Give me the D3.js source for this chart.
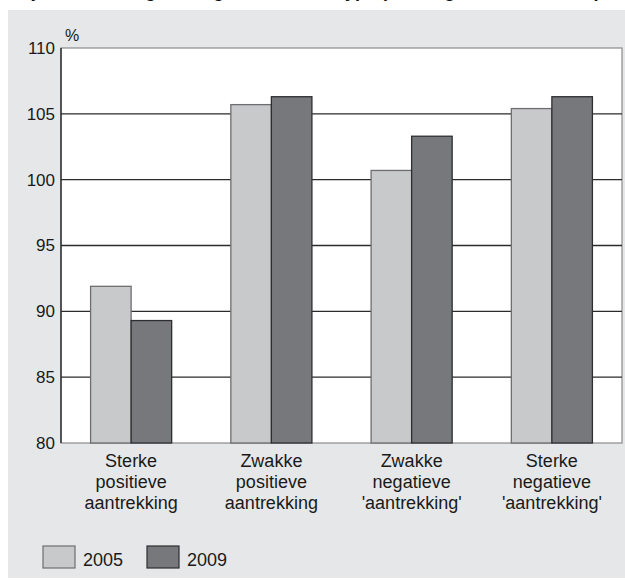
<!DOCTYPE html>
<html>
<head>
<meta charset="utf-8">
<script src="https://cdn.jsdelivr.net/npm/d3@7"></script>
<style>
  body { margin: 0; background: #fff; }
  svg { display: block; font-family: "Liberation Sans", Arial, sans-serif; }
</style>
</head>
<body>
<div id="main-vis"></div>
<script>
// chart values
const categories = [
  ["Sterke", "positieve", "aantrekking"],
  ["Zwakke", "positieve", "aantrekking"],
  ["Zwakke", "negatieve", "'aantrekking'"],
  ["Sterke", "negatieve", "'aantrekking'"]
]
const years = ["2005", "2009"]
const values2005 = [91.9, 105.7, 100.7, 105.4]
const values2009 = [89.3, 106.3, 103.3, 106.3]
const yTicks = [80, 85, 90, 95, 100, 105, 110]

window.onload = setup

function setup () {
    const width = 625, height = 580
    const left = 61, right = 622, top = 48, bottom = 443
    const colors = {"2005": "#c8c9cb", "2009": "#77787b"}
    const strokes = {"2005": "#6e6e70", "2009": "#2e2e30"}

    const svg = d3.create("svg")
        .attr("width", width)
        .attr("height", height)

    // title, only its descenders show at the top edge of the picture
    svg.append("text")
        .attr("x", 8)
        .attr("y", -3)
        .attr("font-weight", "bold")
        .attr("font-size", 18)
        .attr("fill", "#111")
        .text("Prijsontwikkeling woningen naar buurttype (index, gemiddelde = 100)")

    // grey panel
    svg.append("rect")
        .attr("x", 8).attr("y", 10)
        .attr("width", width - 8).attr("height", 568)
        .attr("fill", "#e6e7e8")

    const x0 = d3.scaleBand()
        .domain(d3.range(categories.length))
        .range([left, right])

    const x1 = d3.scaleBand()
        .domain(years)
        .range([0, x0.bandwidth()])
        .paddingOuter(0.73)

    const y = d3.scaleLinear()
        .domain([80, 110])
        .range([bottom, top])

    // plot area
    svg.append("rect")
        .attr("x", left).attr("y", top)
        .attr("width", right - left).attr("height", bottom - top)
        .attr("fill", "#fff")
        .attr("stroke", "#8a8a8c")
        .attr("stroke-width", 1.2)

    // grid lines
    svg.append("g")
        .selectAll("line")
        .data(yTicks.filter(t => t > 80 && t < 110))
        .join("line")
        .attr("x1", left).attr("x2", right)
        .attr("y1", d => y(d)).attr("y2", d => y(d))
        .attr("stroke", "#2b2b2b")
        .attr("stroke-width", 1.3)

    // bars
    const rows = categories.map((c, i) => ({i, v: {"2005": values2005[i], "2009": values2009[i]}}))
    svg.append("g")
        .selectAll("g")
        .data(rows)
        .join("g")
        .attr("transform", d => `translate(${x0(d.i)},0)`)
        .selectAll("rect")
        .data(d => years.map(yr => ({yr, v: d.v[yr]})))
        .join("rect")
        .attr("x", d => x1(d.yr))
        .attr("width", x1.bandwidth())
        .attr("y", d => y(d.v))
        .attr("height", d => y(80) - y(d.v))
        .attr("fill", d => colors[d.yr])
        .attr("stroke", d => strokes[d.yr])
        .attr("stroke-width", 1.3)

    // left axis line
    svg.append("line")
        .attr("x1", left).attr("x2", left)
        .attr("y1", top).attr("y2", bottom)
        .attr("stroke", "#2b2b2b")
        .attr("stroke-width", 1.4)

    // y axis
    const yAxis = svg.append("g")
        .attr("transform", `translate(${left},0)`)
        .call(d3.axisLeft(y).tickValues(yTicks).tickSize(0).tickPadding(6))
    yAxis.select(".domain").remove()
    yAxis.selectAll("text")
        .attr("font-size", 17)
        .attr("font-family", "Liberation Sans, Arial, sans-serif")
        .attr("fill", "#1a1a1a")

    svg.append("text")
        .attr("x", 65).attr("y", 41)
        .attr("font-size", 16)
        .attr("fill", "#1a1a1a")
        .text("%")

    // category labels
    const lab = svg.append("g")
        .selectAll("text")
        .data(categories)
        .join("text")
        .attr("text-anchor", "middle")
        .attr("font-size", 18)
        .attr("fill", "#1a1a1a")
        .attr("transform", (d, i) => `translate(${x0(i) + x0.bandwidth() / 2},467)`)
    lab.selectAll("tspan")
        .data(d => d)
        .join("tspan")
        .attr("x", 0)
        .attr("y", (d, i) => i * 21)
        .text(d => d)

    // legend
    const leg = svg.append("g")
        .selectAll("g")
        .data(years)
        .join("g")
        .attr("transform", (d, i) => `translate(${43 + i * 104},546)`)
    leg.append("rect")
        .attr("width", 32).attr("height", 22)
        .attr("fill", d => colors[d])
        .attr("stroke", d => strokes[d])
        .attr("stroke-width", 1.2)
    leg.append("text")
        .attr("x", 40).attr("y", 20)
        .attr("font-size", 18)
        .attr("fill", "#1a1a1a")
        .text(d => d)

    document.querySelector("#main-vis").appendChild(svg.node())
}
</script>
</body>
</html>
